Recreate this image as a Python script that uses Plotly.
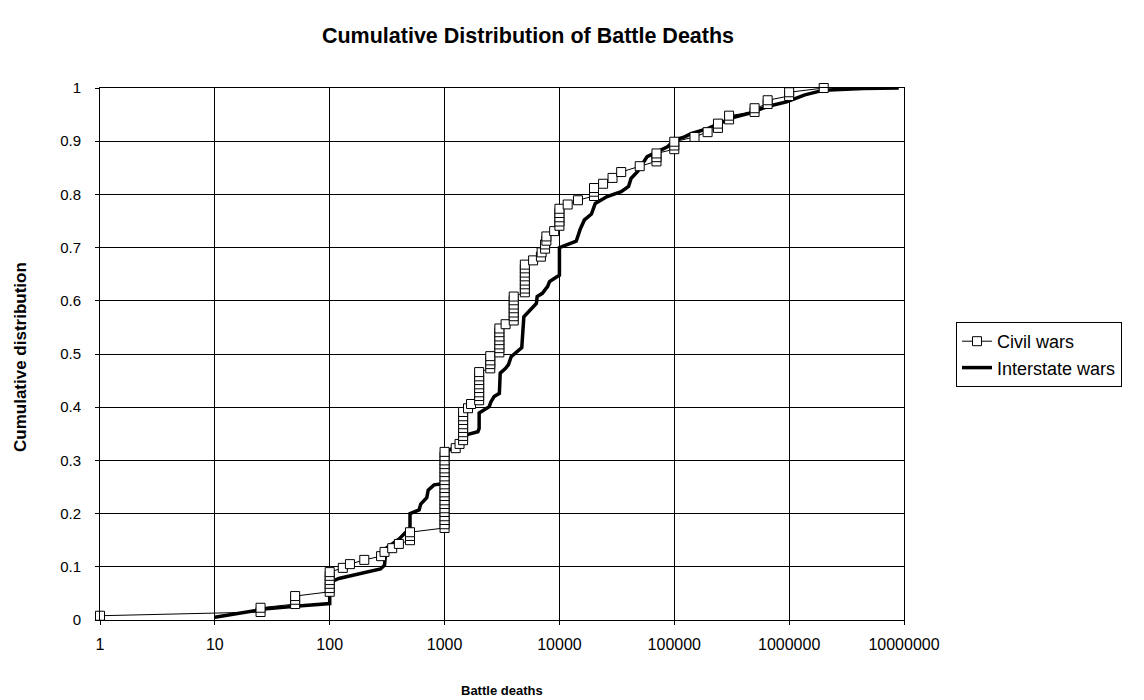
import plotly.graph_objects as go

# ---------------- data ----------------
civil_deaths = [
    1,
    25, 25,
    50, 50, 50,
    100, 100, 100, 100, 100, 100,
    130, 150, 200, 280, 300, 350, 400,
    500, 500, 500,
    1000, 1000, 1000, 1000, 1000, 1000, 1000, 1000, 1000, 1000,
    1000, 1000, 1000, 1000, 1000, 1000, 1000, 1000, 1000, 1000,
    1250, 1350,
    1450, 1450, 1450, 1450, 1450, 1450, 1450, 1450,
    1600, 1700,
    2000, 2000, 2000, 2000, 2000, 2000, 2000, 2000,
    2500, 2500, 2500, 2500,
    3000, 3000, 3000, 3000, 3000, 3000, 3000,
    3400,
    4000, 4000, 4000, 4000, 4000, 4000, 4000,
    5000, 5000, 5000, 5000, 5000, 5000, 5000, 5000,
    5900, 6900, 7000,
    7500, 7500, 7700, 7700,
    9000,
    10000, 10000, 10000, 10000, 10000,
    11800, 14500,
    20000, 20000, 20000,
    24000, 29000, 34500,
    50000,
    70000, 70000, 70000,
    100000, 100000, 100000,
    150000, 195000,
    240000, 240000,
    300000, 300000,
    500000, 500000,
    650000, 650000,
    1000000, 1000000,
    2000000,
]
civil_share = [
    0.008,
    0.015, 0.023,
    0.030, 0.038, 0.045,
    0.053, 0.060, 0.068, 0.075, 0.083, 0.090,
    0.098, 0.105, 0.113, 0.120, 0.128, 0.135, 0.143,
    0.150, 0.158, 0.165,
    0.173, 0.180, 0.188, 0.195, 0.203, 0.210, 0.218, 0.225, 0.233, 0.240,
    0.248, 0.255, 0.263, 0.270, 0.278, 0.285, 0.293, 0.300, 0.308, 0.316,
    0.323, 0.331,
    0.338, 0.346, 0.353, 0.361, 0.368, 0.376, 0.383, 0.391,
    0.398, 0.406,
    0.413, 0.421, 0.428, 0.436, 0.443, 0.451, 0.458, 0.466,
    0.473, 0.481, 0.488, 0.496,
    0.503, 0.511, 0.518, 0.526, 0.533, 0.541, 0.548,
    0.556,
    0.563, 0.571, 0.578, 0.586, 0.593, 0.601, 0.608,
    0.616, 0.623, 0.631, 0.638, 0.646, 0.653, 0.661, 0.668,
    0.676, 0.683, 0.691,
    0.698, 0.706, 0.713, 0.721,
    0.731,
    0.741, 0.749, 0.757, 0.765, 0.773,
    0.781, 0.789,
    0.797, 0.805, 0.812,
    0.820, 0.831, 0.842,
    0.853,
    0.862, 0.870, 0.877,
    0.885, 0.892, 0.899,
    0.908, 0.917,
    0.925, 0.933,
    0.941, 0.948,
    0.955, 0.962,
    0.970, 0.977,
    0.985, 0.992,
    1.000,
]

interstate_deaths = [
    10, 22, 28, 50, 100, 100, 104, 120, 150, 200, 277, 300, 310, 350, 400,
    460, 500, 500, 600, 620, 700, 720, 810, 950, 1000, 1000, 1170, 1300,
    1450, 1480, 1600, 1950, 2000, 2000, 2450, 2530, 2700, 3000, 3050, 3400,
    3600, 3800, 4300, 4700, 4900, 5400, 6300, 6400, 7100, 7900, 8200, 9000,
    10000, 10000, 11400, 14000, 15200, 16500, 19000, 20500, 26000, 34500,
    40000, 42000, 48000, 51000, 58000, 71000, 88000, 100000, 123000, 140000,
    197000, 330000, 440000, 570000, 700000, 950000, 1370000, 2000000,
    4400000, 9000000,
]
interstate_share = [
    0.005, 0.016, 0.021, 0.026, 0.031, 0.060, 0.072, 0.078, 0.083, 0.089,
    0.096, 0.103, 0.135, 0.143, 0.152, 0.165, 0.168, 0.200, 0.207, 0.218,
    0.230, 0.244, 0.254, 0.256, 0.260, 0.316, 0.322, 0.329, 0.333, 0.345,
    0.349, 0.354, 0.360, 0.389, 0.401, 0.410, 0.420, 0.426, 0.464, 0.473,
    0.480, 0.495, 0.505, 0.512, 0.570, 0.580, 0.595, 0.608, 0.614, 0.627,
    0.636, 0.642, 0.648, 0.700, 0.704, 0.712, 0.735, 0.752, 0.763, 0.783,
    0.796, 0.805, 0.815, 0.830, 0.843, 0.852, 0.871, 0.880, 0.890, 0.902,
    0.908, 0.914, 0.924, 0.945, 0.952, 0.961, 0.967, 0.974, 0.987, 0.996,
    0.999, 1.000,
]

x_tick_values = [1, 10, 100, 1000, 10000, 100000, 1000000, 10000000]
x_tick_labels = ["1", "10", "100", "1000", "10000", "100000", "1000000", "10000000"]
y_tick_values = [0, 0.1, 0.2, 0.3, 0.4, 0.5, 0.6, 0.7, 0.8, 0.9, 1]
y_tick_labels = ["0", "0.1", "0.2", "0.3", "0.4", "0.5", "0.6", "0.7", "0.8", "0.9", "1"]

FONT = "Liberation Sans, Arial, sans-serif"

fig = go.Figure()

fig.add_trace(go.Scatter(
    x=interstate_deaths, y=interstate_share,
    mode="lines", name="Interstate wars",
    line=dict(color="black", width=3.5),
    legendgroup="b", legendrank=2,
))
fig.add_trace(go.Scatter(
    x=civil_deaths, y=civil_share,
    mode="lines+markers", name="Civil wars",
    line=dict(color="black", width=1),
    marker=dict(symbol="square", size=9, color="white",
                line=dict(color="black", width=1)),
    cliponaxis=False,
    legendgroup="a", legendrank=1,
))

fig.update_layout(
    width=1144, height=700,
    paper_bgcolor="white", plot_bgcolor="white",
    margin=dict(l=100, r=240, t=88, b=80),
    font=dict(family=FONT, color="black", size=15),
    title=dict(text="<b>Cumulative Distribution of Battle Deaths</b>",
               x=528 / 1144, xanchor="center", xref="container",
               y=1 - 35 / 700, yanchor="middle", yref="container",
               font=dict(family=FONT, size=21.5, color="black")),
    showlegend=True,
    legend=dict(x=(956 - 100) / 804, xanchor="left",
                y=(620 - 322) / 532, yanchor="top",
                bordercolor="black", borderwidth=1, bgcolor="white",
                font=dict(family=FONT, size=18, color="black"),
                traceorder="grouped", tracegroupgap=0),
)

fig.update_xaxes(
    type="log", range=[0, 7],
    tickvals=x_tick_values, ticktext=x_tick_labels,
    showgrid=True, gridcolor="black", gridwidth=1,
    showline=True, linecolor="black", linewidth=1, mirror=True,
    ticks="outside", ticklen=4, tickcolor="black",
    ticklabelstandoff=6,
    tickfont=dict(family=FONT, size=16, color="black"),
    zeroline=False,
)
fig.update_yaxes(
    range=[0, 1],
    tickvals=y_tick_values, ticktext=y_tick_labels,
    showgrid=True, gridcolor="black", gridwidth=1,
    showline=True, linecolor="black", linewidth=1, mirror=True,
    ticks="outside", ticklen=4, tickcolor="black",
    ticklabelstandoff=11,
    tickfont=dict(family=FONT, size=15, color="black"),
    zeroline=False,
)

fig.add_annotation(text="<b>Battle deaths</b>", xref="paper", yref="paper",
                   x=0.5, y=(620 - 690) / 532, xanchor="center", yanchor="middle",
                   showarrow=False, font=dict(family=FONT, size=13, color="black"))
fig.add_annotation(text="<b>Cumulative distribution</b>", xref="paper", yref="paper",
                   x=(20 - 100) / 804, y=(620 - 357) / 532, xanchor="center", yanchor="middle",
                   textangle=-90, showarrow=False,
                   font=dict(family=FONT, size=17, color="black"))

fig.write_html("out.html", config={"displayModeBar": False},
               post_script="document.body.style.margin='0px';")
